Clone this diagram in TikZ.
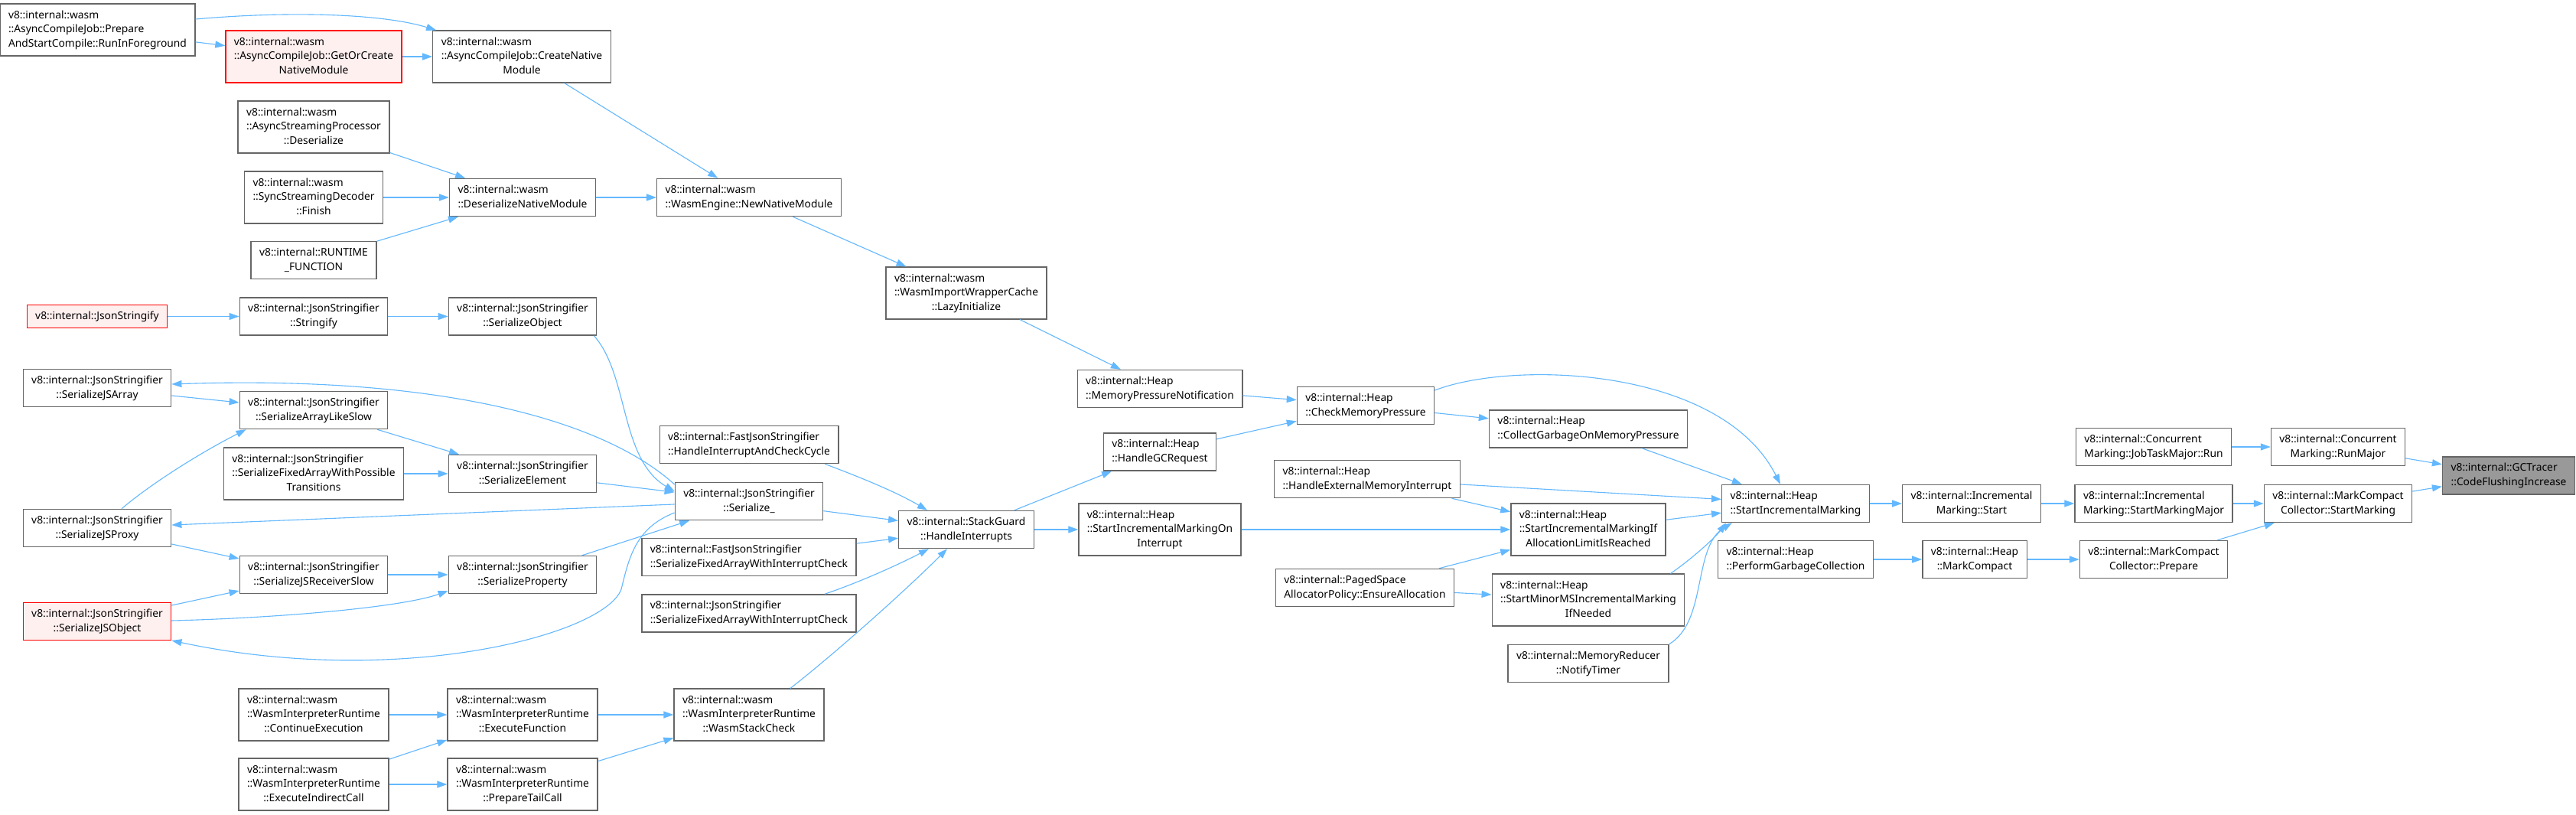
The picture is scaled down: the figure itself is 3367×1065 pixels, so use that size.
\documentclass[tikz,border=0pt]{standalone}
\usepackage{fontspec}
\setmainfont{Noto Sans}
\usetikzlibrary{arrows.meta}
\definecolor{edgeblue}{HTML}{63B8FF}
\definecolor{boxgray}{HTML}{666666}
\definecolor{hotfill}{HTML}{FFF0F0}
\definecolor{rootfill}{HTML}{999999}
% label: left lines, then a centred last line
\newcommand{\fnl}[2]{\begin{tabular}{@{}l@{}}#1\\\multicolumn{1}{@{}c@{}}{#2}\end{tabular}}
\newcommand{\fno}[1]{\begin{tabular}{@{}c@{}}#1\end{tabular}}
\begin{document}
\begin{tikzpicture}[x=0.5pt,y=-0.5pt,
    fn/.style={draw=boxgray,fill=white,line width=0.65pt,inner xsep=5.5pt,inner ysep=3pt,font=\fontsize{6.9}{9.3}\selectfont},
    fnhot/.style={fn,draw=red,fill=hotfill},
    fnroot/.style={fn,fill=rootfill},
    call/.style={draw=edgeblue,line width=0.55pt,-{Triangle[length=6.5pt,width=4.5pt]}}]
    \fill[white] (0,0) rectangle (3367,1065);
    \useasboundingbox (0,0) rectangle (3367,1065);
    % wasm callers
    \node[fn] (prepare) at (127.5,39) {\fnl{v8::internal::wasm\\::AsyncCompileJob::Prepare}{AndStartCompile::RunInForeground}};
    \node[fnhot] (getorcreate) at (410,74) {\fnl{v8::internal::wasm\\::AsyncCompileJob::GetOrCreate}{NativeModule}};
    \node[fn] (createnative) at (682,74) {\fnl{v8::internal::wasm\\::AsyncCompileJob::CreateNative}{Module}};
    \node[fn] (streamproc) at (410,166) {\fnl{v8::internal::wasm\\::AsyncStreamingProcessor}{::Deserialize}};
    \node[fn] (streamdec) at (410,258) {\fnl{v8::internal::wasm\\::SyncStreamingDecoder}{::Finish}};
    \node[fn] (runtimefn) at (410,340) {\fnl{v8::internal::RUNTIME}{\_FUNCTION}};
    \node[fn] (deserialize) at (683,258) {\fnl{v8::internal::wasm}{::DeserializeNativeModule}};
    \node[fn] (newnative) at (979,258) {\fnl{v8::internal::wasm}{::WasmEngine::NewNativeModule}};
    \node[fn] (lazyinit) at (1263,383) {\fnl{v8::internal::wasm\\::WasmImportWrapperCache}{::LazyInitialize}};
    % json stringifier
    \node[fnhot] (jsonstringify) at (127,413.5) {\fno{v8::internal::JsonStringify}};
    \node[fn] (stringify) at (410,413.5) {\fnl{v8::internal::JsonStringifier}{::Stringify}};
    \node[fn] (serobject) at (683,413.5) {\fnl{v8::internal::JsonStringifier}{::SerializeObject}};
    \node[fn] (serjsarray) at (127,507) {\fnl{v8::internal::JsonStringifier}{::SerializeJSArray}};
    \node[fn] (arraylike) at (410,536) {\fnl{v8::internal::JsonStringifier}{::SerializeArrayLikeSlow}};
    \node[fn] (possible) at (410,619) {\fnl{v8::internal::JsonStringifier\\::SerializeFixedArrayWithPossible}{Transitions}};
    \node[fn] (serelement) at (683,619) {\fnl{v8::internal::JsonStringifier}{::SerializeElement}};
    \node[fn] (serjsproxy) at (127,690) {\fnl{v8::internal::JsonStringifier}{::SerializeJSProxy}};
    \node[fn] (receiverslow) at (410,751) {\fnl{v8::internal::JsonStringifier}{::SerializeJSReceiverSlow}};
    \node[fn] (serproperty) at (683,751) {\fnl{v8::internal::JsonStringifier}{::SerializeProperty}};
    \node[fnhot] (serjsobject) at (127,812) {\fnl{v8::internal::JsonStringifier}{::SerializeJSObject}};
    \node[fn] (checkcycle) at (979,581) {\fnl{v8::internal::FastJsonStringifier}{::HandleInterruptAndCheckCycle}};
    \node[fn] (serialize) at (979,655) {\fnl{v8::internal::JsonStringifier}{::Serialize\_}};
    \node[fn] (fastfixed) at (979,728) {\fnl{v8::internal::FastJsonStringifier}{::SerializeFixedArrayWithInterruptCheck}};
    \node[fn] (slowfixed) at (979,801.5) {\fnl{v8::internal::JsonStringifier}{::SerializeFixedArrayWithInterruptCheck}};
    % wasm interpreter
    \node[fn] (contexec) at (410,934) {\fnl{v8::internal::wasm\\::WasmInterpreterRuntime}{::ContinueExecution}};
    \node[fn] (execfunc) at (683,934) {\fnl{v8::internal::wasm\\::WasmInterpreterRuntime}{::ExecuteFunction}};
    \node[fn] (execindirect) at (410,1025) {\fnl{v8::internal::wasm\\::WasmInterpreterRuntime}{::ExecuteIndirectCall}};
    \node[fn] (tailcall) at (683,1025) {\fnl{v8::internal::wasm\\::WasmInterpreterRuntime}{::PrepareTailCall}};
    \node[fn] (stackcheck) at (979,934) {\fnl{v8::internal::wasm\\::WasmInterpreterRuntime}{::WasmStackCheck}};
    % heap
    \node[fn] (interrupts) at (1263,692) {\fnl{v8::internal::StackGuard}{::HandleInterrupts}};
    \node[fn] (mempress) at (1516,508) {\fnl{v8::internal::Heap}{::MemoryPressureNotification}};
    \node[fn] (gcrequest) at (1516,590.5) {\fnl{v8::internal::Heap}{::HandleGCRequest}};
    \node[fn] (markoninterrupt) at (1516,692) {\fnl{v8::internal::Heap\\::StartIncrementalMarkingOn}{Interrupt}};
    \node[fn] (checkmem) at (1785,530) {\fnl{v8::internal::Heap}{::CheckMemoryPressure}};
    \node[fn] (extmem) at (1787,626) {\fnl{v8::internal::Heap}{::HandleExternalMemoryInterrupt}};
    \node[fn] (ensurealloc) at (1784,768) {\fnl{v8::internal::PagedSpace}{AllocatorPolicy::EnsureAllocation}};
    \node[fn] (collectgc) at (2076,560.5) {\fnl{v8::internal::Heap}{::CollectGarbageOnMemoryPressure}};
    \node[fn] (markiflimit) at (2076,692) {\fnl{v8::internal::Heap\\::StartIncrementalMarkingIf}{AllocationLimitIsReached}};
    \node[fn] (minorms) at (2076,784) {\fnl{v8::internal::Heap\\::StartMinorMSIncrementalMarking}{IfNeeded}};
    \node[fn] (notifytimer) at (2076,867) {\fnl{v8::internal::MemoryReducer}{::NotifyTimer}};
    \node[fn] (startinc) at (2347,658) {\fnl{v8::internal::Heap}{::StartIncrementalMarking}};
    \node[fn] (performgc) at (2347,731) {\fnl{v8::internal::Heap}{::PerformGarbageCollection}};
    % marking
    \node[fn] (incstart) at (2577,658) {\fnl{v8::internal::Incremental}{Marking::Start}};
    \node[fn] (heapmc) at (2581,731) {\fnl{v8::internal::Heap}{::MarkCompact}};
    \node[fn] (jobtask) at (2815,584) {\fnl{v8::internal::Concurrent}{Marking::JobTaskMajor::Run}};
    \node[fn] (markingmajor) at (2815,658) {\fnl{v8::internal::Incremental}{Marking::StartMarkingMajor}};
    \node[fn] (mcprepare) at (2815,731) {\fnl{v8::internal::MarkCompact}{Collector::Prepare}};
    \node[fn] (runmajor) at (3056,584) {\fnl{v8::internal::Concurrent}{Marking::RunMajor}};
    \node[fn] (mcstart) at (3056,658) {\fnl{v8::internal::MarkCompact}{Collector::StartMarking}};
    \node[fnroot] (gctracer) at (3279,621.5) {\fnl{v8::internal::GCTracer}{::CodeFlushingIncrease}};
    % calls
    \draw[call] (prepare) -- (getorcreate);
    \draw[call] ([yshift=7pt]prepare.east) .. controls (380,14) and (500,18) .. ([xshift=2.5pt]createnative.north west);
    \draw[call] (getorcreate) -- (createnative);
    \draw[call] (createnative) -- (newnative);
    \draw[call] (streamproc) -- (deserialize);
    \draw[call] (streamdec) -- (deserialize);
    \draw[call] (runtimefn) -- (deserialize);
    \draw[call] (deserialize) -- (newnative);
    \draw[call] (newnative) -- (lazyinit);
    \draw[call] (lazyinit) -- (mempress);
    \draw[call] (mempress) -- (checkmem);
    \draw[call] (gcrequest) -- (checkmem);
    \draw[call] (checkmem) -- (collectgc);
    \draw[call] ([yshift=10pt]checkmem.east) .. controls (1980,470) and (2250,480) .. ([xshift=-10pt]startinc.north);
    \draw[call] (collectgc) -- (startinc);
    \draw[call] (extmem) -- (startinc);
    \draw[call] (extmem) -- (markiflimit);
    \draw[call] (markoninterrupt) -- (markiflimit);
    \draw[call] (markiflimit) -- (startinc);
    \draw[call] (ensurealloc) -- (markiflimit);
    \draw[call] (ensurealloc) -- (minorms);
    \draw[call] ([xshift=-9.5pt]minorms.north east) .. controls (2205,735) and (2240,705) .. ([xshift=3pt]startinc.south west);
    \draw[call] (notifytimer.north east) .. controls (2232,812) and (2212,715) .. ([xshift=7pt]startinc.south west);
    \draw[call] (startinc) -- (incstart);
    \draw[call] (incstart) -- (markingmajor);
    \draw[call] (markingmajor) -- (mcstart);
    \draw[call] (performgc) -- (heapmc);
    \draw[call] (heapmc) -- (mcprepare);
    \draw[call] (mcprepare) -- (mcstart);
    \draw[call] (jobtask) -- (runmajor);
    \draw[call] (runmajor) -- (gctracer);
    \draw[call] (mcstart) -- (gctracer);
    \draw[call] (interrupts) -- (gcrequest);
    \draw[call] (interrupts) -- (markoninterrupt);
    \draw[call] ([xshift=49.5pt]checkcycle.south) .. controls (1120,622) and (1170,642) .. ([xshift=-25.5pt]interrupts.north);
    \draw[call] (serialize) -- (interrupts);
    \draw[call] (fastfixed) -- (interrupts);
    \draw[call] ([xshift=49.5pt]slowfixed.north) .. controls (1120,762) and (1170,740) .. ([xshift=-24.5pt]interrupts.south);
    \draw[call] ([xshift=27pt]stackcheck.north) .. controls (1090,855) and (1180,775) .. ([xshift=-12.5pt]interrupts.south);
    \draw[call] (jsonstringify) -- (stringify);
    \draw[call] (stringify) -- (serobject);
    \draw[call] ([xshift=-2pt]serobject.south east) .. controls (822,490) and (810,600) .. ([yshift=6.5pt]serialize.west);
    \draw[call] (serjsarray) -- (arraylike);
    \draw[call] (arraylike) -- (serelement);
    \draw[call] (possible) -- (serelement);
    \draw[call] (serelement) -- (serialize);
    \draw[call] ([xshift=16pt]serjsproxy.north) .. controls (200,630) and (265,590) .. ([xshift=4.5pt]arraylike.south west);
    \draw[call] (serjsproxy) -- (receiverslow);
    \draw[call] (serjsobject) -- (receiverslow);
    \draw[call] ([yshift=0.5pt]serjsobject.east) .. controls (350,808) and (520,795) .. ([yshift=2pt]serproperty.south west);
    \draw[call] (receiverslow) -- (serproperty);
    \draw[call] (serproperty) -- (serialize);
    \draw[call] ([yshift=11pt]serialize.west) .. controls (790,550) and (580,490) .. ([yshift=2.5pt]serjsarray.east);
    \draw[call] (serialize) -- (serjsproxy);
    \draw[call] ([yshift=-7.5pt]serialize.west) .. controls (830,690) and (822,730) .. (812,770) .. controls (790,830) and (520,900) .. ([yshift=-12.5pt]serjsobject.east);
    \draw[call] (contexec) -- (execfunc);
    \draw[call] (execindirect) -- (execfunc);
    \draw[call] (execindirect) -- (tailcall);
    \draw[call] (execfunc) -- (stackcheck);
    \draw[call] (tailcall) -- (stackcheck);
\end{tikzpicture}
\end{document}
